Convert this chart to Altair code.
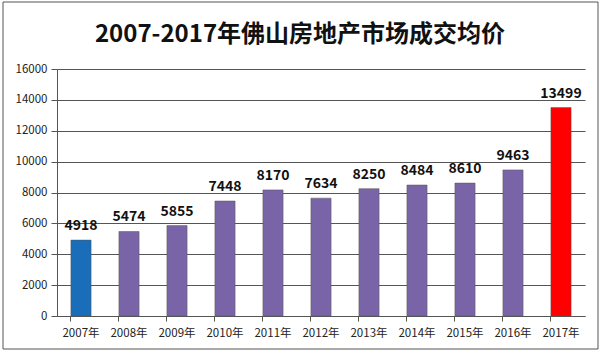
import altair as alt
import pandas as pd

years = ["2007年", "2008年", "2009年", "2010年", "2011年", "2012年",
         "2013年", "2014年", "2015年", "2016年", "2017年"]
prices = [4918, 5474, 5855, 7448, 8170, 7634, 8250, 8484, 8610, 9463, 13499]
groups = ["a", "b", "b", "b", "b", "b", "b", "b", "b", "b", "c"]
group_colors = ["#1A6DB8", "#7A64A8", "#FF0000"]
y_ticks = [0, 2000, 4000, 6000, 8000, 10000, 12000, 14000, 16000]
title_text = "2007-2017年佛山房地产市场成交均价"

df = pd.DataFrame({"year": years, "price": prices, "group": groups})

W, H = 528, 247
FONT = "Noto Sans CJK SC"

base = alt.Chart(df)

x_enc = alt.X("year:N", sort=years,
              scale=alt.Scale(paddingInner=0.58, paddingOuter=0.29),
              axis=alt.Axis(title=None, labelAngle=0, labelFont=FONT, labelFontSize=11.5,
                            labelColor="#222222", domainColor="#555555", tickColor="#555555",
                            tickSize=5, bandPosition=0, labelPadding=6, grid=False,
                            labelOverlap=False))
y_enc = alt.Y("price:Q", scale=alt.Scale(domain=[0, 16000]),
              axis=alt.Axis(title=None, values=y_ticks, tickCount=len(y_ticks) + 1, format="d",
                            labelOverlap=False, labelFont=FONT,
                            labelFontSize=11.5, labelColor="#222222", domainColor="#555555",
                            tickColor="#555555", tickSize=6, gridColor="#555555",
                            gridWidth=1, labelPadding=4))

frame = base.mark_rect(fill=None, stroke="#555555", strokeWidth=1).encode(
    x=alt.value(-54), x2=alt.value(W + 13), y=alt.value(-67), y2=alt.value(H + 33)
).transform_filter("datum.year == '2007年'")

bars = base.mark_bar(stroke="#555555", strokeWidth=0.5).encode(
    x=x_enc,
    y=y_enc,
    color=alt.Color("group:N", scale=alt.Scale(domain=["a", "b", "c"], range=group_colors),
                    legend=None),
)

labels = base.mark_text(font=FONT, fontSize=14, fontWeight="bold", color="#111111",
                        dy=-14).encode(
    x=x_enc,
    y=y_enc,
    text=alt.Text("price:Q", format="d"),
)

title = base.mark_text(font=FONT, fontSize=24, fontWeight="bold", color="#111111"
                       ).encode(
    x=alt.value(243), y=alt.value(-34), text=alt.value(title_text)
).transform_filter("datum.year == '2007年'")

chart = alt.layer(frame, bars, labels, title).properties(
    width=W, height=H,
    padding={"left": 57, "top": 69, "right": 18, "bottom": 38},
    autosize=alt.AutoSizeParams(type="none"),
    background="white",
).configure_view(stroke=None)

chart.save("out.html", embed_options={"renderer": "svg", "actions": False})
